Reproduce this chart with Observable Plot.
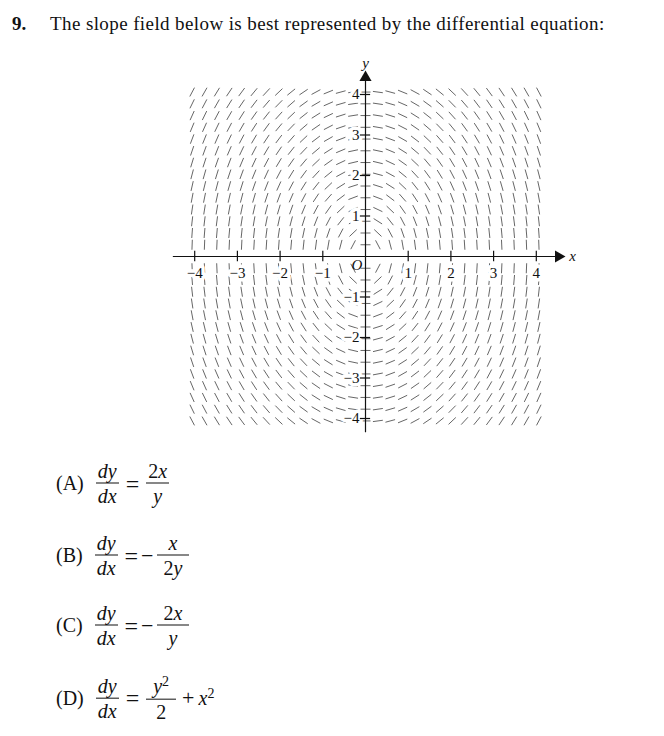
<!DOCTYPE html>
<html><head><meta charset="utf-8">
<script src="https://cdn.jsdelivr.net/npm/d3@7"></script>
<script src="https://cdn.jsdelivr.net/npm/@observablehq/plot@0.6"></script>
<style>
body{margin:0;background:#fff;width:664px;height:736px;position:relative;overflow:hidden;font-family:"Liberation Serif","DejaVu Serif",serif;color:#111;}
#num{position:absolute;left:12px;top:13px;font-size:19px;font-weight:bold}
#title{position:absolute;left:50px;top:13px;font-size:19px;letter-spacing:0.4px;white-space:nowrap}
#chart{position:absolute;left:0;top:50px}
.choice{position:absolute;left:56px;display:flex;align-items:center;font-size:20px;transform:translateY(-50%)}
.frac{display:inline-flex;flex-direction:column;align-items:center;line-height:1.1;margin:0 2px}
.frac .num{padding:0 2px 1px;border-bottom:1px solid #111;text-align:center}
.frac .den{padding:1px 2px 0;text-align:center}
.lab{margin-right:10px}
.op{margin:0 5px;font-size:24px;line-height:1}
.minus{margin:0 1px 0 0;font-size:22px;line-height:1}
sup{font-size:14px}
i{font-style:italic}
</style></head>
<body>
<div id="num">9.</div>
<div id="title">The slope field below is best represented by the differential equation:</div>
<div id="chart"></div>
<div class="choice" style="top:483px"><span class="lab">(A)</span><span class="frac"><span class="num"><i>dy</i></span><span class="den"><i>dx</i></span></span><span class="op">=</span><span class="frac"><span class="num">2<i>x</i></span><span class="den"><i>y</i></span></span></div>
<div class="choice" style="top:555px"><span class="lab">(B)</span><span class="frac"><span class="num"><i>dy</i></span><span class="den"><i>dx</i></span></span><span class="op" style="margin-right:3px">=</span><span class="minus">−</span><span class="frac"><span class="num">&nbsp;&nbsp;<i>x</i>&nbsp;&nbsp;</span><span class="den">2<i>y</i></span></span></div>
<div class="choice" style="top:625px"><span class="lab">(C)</span><span class="frac"><span class="num"><i>dy</i></span><span class="den"><i>dx</i></span></span><span class="op" style="margin-right:3px">=</span><span class="minus">−</span><span class="frac"><span class="num">&nbsp;2<i>x</i>&nbsp;</span><span class="den"><i>y</i></span></span></div>
<div class="choice" style="top:698px"><span class="lab">(D)</span><span class="frac"><span class="num"><i>dy</i></span><span class="den"><i>dx</i></span></span><span class="op">=</span><span class="frac"><span class="num">&nbsp;<i>y</i><sup>2</sup>&nbsp;</span><span class="den">2</span></span><span class="op" style="margin:0 4px;font-size:22px">+</span><span><i>x</i><sup>2</sup></span></div>
<script>
// grid positions of the slope segments (same values on both axes)
const gridValues = [-4.06,-3.77,-3.48,-3.19,-2.90,-2.61,-2.32,-2.03,-1.74,-1.45,-1.16,-0.87,-0.58,-0.29,0,
  0.29,0.58,0.87,1.16,1.45,1.74,2.03,2.32,2.61,2.90,3.19,3.48,3.77,4.06];
const xTicks = [-4,-3,-2,-1,1,2,3,4];
const xTickLabels = ["−4","−3","−2","−1","1","2","3","4"];
const yTicks = [4,3,2,1,-1,-2,-3,-4];
const yTickLabels = ["4","3","2","1","−1","−2","−3","−4"];
// slope field equation dy/dx = -2x/y
const slope = (x, y) => -2 * x / y;

const sx = 42.7, sy = 40.5, half = 5; // px per unit, half segment length px
const field = [];
for (const gx of gridValues) for (const gy of gridValues) {
  if (gy === 0) continue;
  const m = slope(gx, gy);
  const px = sx, py = m * sy, n = Math.hypot(px, py);
  const dx = (px / n) * half / sx, dy = (py / n) * half / sy;
  field.push({x1: gx - dx, y1: gy - dy, x2: gx + dx, y2: gy + dy});
}
const serif = "'Liberation Serif', 'DejaVu Serif', serif";
const xLab = {x: d => d, y: 0, dy: 17, text: (d, i) => xTickLabels[i], fontSize: 15, fontFamily: serif};
const yLab = {x: 0, y: d => d, dx: -6, textAnchor: "end", text: (d, i) => yTickLabels[i], fontSize: 15, fontFamily: serif};
const plot = Plot.plot({
  width: 664, height: 400,
  style: {fontFamily: serif},
  x: {domain: [-4, 4], range: [194.2, 535.8], axis: null},
  y: {domain: [-4, 4], range: [368, 44], axis: null},
  marks: [
    Plot.link(field, {x1: "x1", y1: "y1", x2: "x2", y2: "y2", stroke: "#555", strokeWidth: 0.9}),
    Plot.text(xTicks, {...xLab, fill: "white", stroke: "white", strokeWidth: 7}),
    Plot.text(yTicks, {...yLab, fill: "white", stroke: "white", strokeWidth: 7}),
    Plot.text(xTicks, {...xLab, fill: "#111"}),
    Plot.text(yTicks, {...yLab, fill: "#111"}),
    Plot.text(["O"], {x: -0.2, y: 0, dy: 9, text: d => d, fontSize: 15, fontStyle: "italic", fontFamily: serif, fill: "#111"}),
    Plot.ruleY([0], {x1: -4.5, x2: 4.5, stroke: "#111", strokeWidth: 1.2}),
    Plot.ruleX([0], {y1: -4.35, y2: 4.4, stroke: "#111", strokeWidth: 1.2}),
    Plot.ruleX(xTicks, {x: d => d, y1: -0.13, y2: 0.13, stroke: "#111", strokeWidth: 1.2}),
    Plot.ruleY(yTicks, {y: d => d, x1: -0.12, x2: 0.12, stroke: "#111", strokeWidth: 1.2}),
    Plot.dot([[4.52, 0]], {x: d => d[0], y: d => d[1], symbol: "triangle", r: 4.5, fill: "#111", stroke: "none", rotate: 90}),
    Plot.dot([[0, 4.42]], {x: d => d[0], y: d => d[1], symbol: "triangle", r: 4.5, fill: "#111", stroke: "none"}),
    Plot.text(["x"], {x: 4.85, y: 0, text: d => d, fontSize: 15, fontStyle: "italic", fontFamily: serif, fill: "#111"}),
    Plot.text(["y"], {x: 0, y: 4.77, text: d => d, fontSize: 15, fontStyle: "italic", fontFamily: serif, fill: "#111"})
  ]
});
document.getElementById("chart").appendChild(plot);
</script>
</body></html>
